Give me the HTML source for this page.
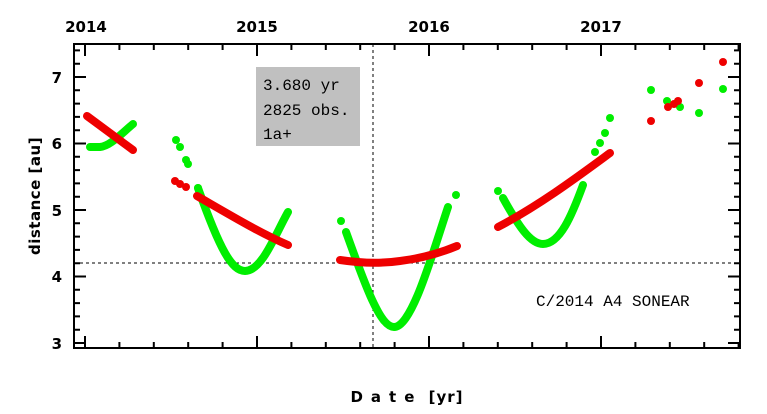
<!DOCTYPE html>
<html><head><style>
html,body{margin:0;padding:0;background:#fff}
svg{display:block}
text{font-family:"DejaVu Sans","Liberation Sans",sans-serif;font-weight:bold;fill:#000}
.m{font-family:"Liberation Mono","DejaVu Sans Mono",monospace;font-weight:normal}
</style></head><body>
<svg width="767" height="414" viewBox="0 0 767 414" xmlns="http://www.w3.org/2000/svg">
<rect x="256" y="67" width="104" height="79" fill="#c0c0c0"/>
<text class="m" x="263" y="90" font-size="16">3.680 yr</text>
<text class="m" x="263" y="115" font-size="16">2825 obs.</text>
<text class="m" x="263" y="139" font-size="16">1a+</text>
<text class="m" x="536" y="306" font-size="16">C/2014 A4 SONEAR</text>
<line x1="74" y1="263" x2="740" y2="263" stroke="#000" stroke-width="1" stroke-dasharray="3,3"/>
<line x1="373" y1="44" x2="373" y2="347" stroke="#000" stroke-width="1" stroke-dasharray="3,3"/>
<g fill="none" stroke-linecap="round" stroke-linejoin="round" stroke-width="8">
<g stroke="#00ee00">
<path d="M90,147 L100,147 C110,146 120,135 133,124"/>
<path d="M198,188 C220,250 232,271 245,271 C262,271 275,235 288,212"/>
<path d="M346,232 C365,285 380,327 394,327 C412,327 432,255 448,207"/>
<path d="M503,198 C518,225 530,244 543,244 C560,244 572,215 583,185"/>
</g>
<g stroke="#ee0000">
<path d="M87,116 L133,150"/>
<path d="M197,196 C230,215 260,233 288,245"/>
<path d="M340,260 C360,263 380,264 400,261 C425,258 445,251 457,246"/>
<path d="M498,227 C540,205 580,175 610,153"/>
</g>
</g>
<g fill="#00ee00">
<circle cx="176" cy="140" r="4"/><circle cx="180" cy="147" r="4"/><circle cx="186" cy="160" r="4"/><circle cx="188" cy="164" r="4"/><circle cx="198" cy="188" r="4"/>
<circle cx="341" cy="221" r="4"/><circle cx="456" cy="195" r="4"/>
<circle cx="498" cy="191" r="4"/><circle cx="595" cy="152" r="4"/><circle cx="600" cy="143" r="4"/><circle cx="605" cy="133" r="4"/><circle cx="610" cy="118" r="4"/>
<circle cx="651" cy="90" r="4"/><circle cx="667" cy="101" r="4"/><circle cx="680" cy="107" r="4"/><circle cx="699" cy="113" r="4"/><circle cx="723" cy="89" r="4"/>
</g>
<g fill="#ee0000">
<circle cx="175" cy="181" r="4"/><circle cx="180" cy="184" r="4"/><circle cx="186" cy="187" r="4"/>
<circle cx="651" cy="121" r="4"/><circle cx="668" cy="107" r="4"/><circle cx="674" cy="104" r="4"/><circle cx="678" cy="101" r="4"/><circle cx="699" cy="83" r="4"/><circle cx="723" cy="62" r="4"/>
</g>
<rect x="74" y="44" width="666" height="304" fill="none" stroke="#000" stroke-width="2"/>
<g stroke="#000" stroke-width="2" id="t">
<path d="M85,348v-12M257,348v-12M429,348v-12M601,348v-12M85,44v12M257,44v12M429,44v12M601,44v12
M119.4,348v-6M153.8,348v-6M188.2,348v-6M222.6,348v-6M291.4,348v-6M325.8,348v-6M360.2,348v-6M394.6,348v-6M463.4,348v-6M497.8,348v-6M532.2,348v-6M566.6,348v-6M635.4,348v-6M669.8,348v-6M704.2,348v-6M738.6,348v-6
M119.4,44v6M153.8,44v6M188.2,44v6M222.6,44v6M291.4,44v6M325.8,44v6M360.2,44v6M394.6,44v6M463.4,44v6M497.8,44v6M532.2,44v6M566.6,44v6M635.4,44v6M669.8,44v6M704.2,44v6M738.6,44v6
M74,77h12M74,143.5h12M74,210h12M74,276.5h12M74,343h12M740,77h-12M740,143.5h-12M740,210h-12M740,276.5h-12M740,343h-12
M74,50.4h6M74,63.7h6M74,90.3h6M74,103.6h6M74,116.9h6M74,130.2h6M74,156.8h6M74,170.1h6M74,183.4h6M74,196.7h6M74,223.3h6M74,236.6h6M74,249.9h6M74,263.2h6M74,289.8h6M74,303.1h6M74,316.4h6M74,329.7h6
M740,50.4h-6M740,63.7h-6M740,90.3h-6M740,103.6h-6M740,116.9h-6M740,130.2h-6M740,156.8h-6M740,170.1h-6M740,183.4h-6M740,196.7h-6M740,223.3h-6M740,236.6h-6M740,249.9h-6M740,263.2h-6M740,289.8h-6M740,303.1h-6M740,316.4h-6M740,329.7h-6"/>
</g>
<g font-size="15" text-anchor="middle">
<text x="86" y="32">2014</text><text x="257" y="32">2015</text><text x="429" y="32">2016</text><text x="601" y="32">2017</text>
</g>
<g font-size="15" text-anchor="end">
<text x="62" y="83">7</text><text x="62" y="149">6</text><text x="62" y="216">5</text><text x="62" y="282">4</text><text x="62" y="349">3</text>
</g>
<text x="40" y="196" font-size="15" text-anchor="middle" transform="rotate(-90 40 196)" letter-spacing="0.5">distance [au]</text>
<text x="407" y="402" font-size="15" text-anchor="middle" letter-spacing="1"><tspan letter-spacing="8">Date</tspan> [yr]</text>
</svg>
</body></html>
